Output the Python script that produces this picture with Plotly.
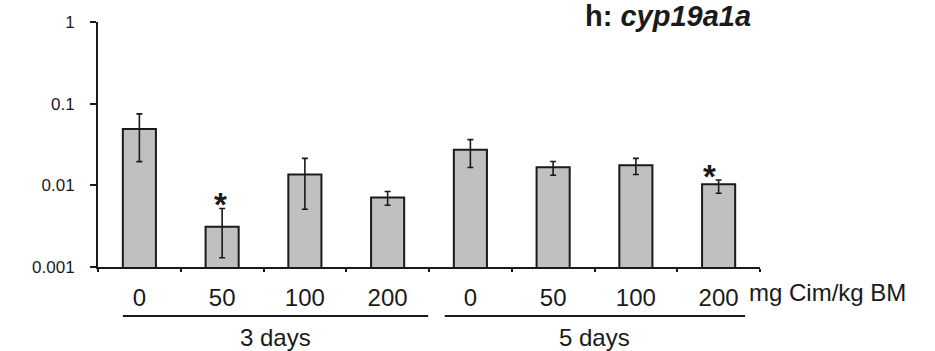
import math
import plotly.graph_objects as go

# ---- data ----
doses = ["0", "50", "100", "200", "0", "50", "100", "200"]
groups = ["3 days", "5 days"]
group_size = 4
means = [0.049, 0.0031, 0.0136, 0.0071, 0.0272, 0.0166, 0.0176, 0.0103]
err_upper = [0.075, 0.0052, 0.0214, 0.0084, 0.0363, 0.0196, 0.0214, 0.0116]
err_lower = [0.0195, 0.0013, 0.0051, 0.0057, 0.0165, 0.0133, 0.0136, 0.0080]
significant = [False, True, False, False, False, False, False, True]
y_ticks = [0.001, 0.01, 0.1, 1]
y_tick_text = ["0.001", "0.01", "0.1", "1"]
unit_label = "mg Cim/kg BM"
title_text = "<b>h: <i>cyp19a1a</i></b>"

FONT = "Arial, Liberation Sans, sans-serif"
n = len(means)
xs = list(range(n))

fig = go.Figure()
fig.add_trace(go.Bar(
    x=xs, y=means,
    marker=dict(color="#c0c0c0", line=dict(color="#1a1a1a", width=2)),
    error_y=dict(
        type="data", symmetric=False,
        array=[u - m for u, m in zip(err_upper, means)],
        arrayminus=[m - l for m, l in zip(means, err_lower)],
        color="#1a1a1a", thickness=1.6, width=3,
    ),
    showlegend=False,
))

annotations = []
star_xshift = {1: -2, 7: -9}
for i, (s, u) in enumerate(zip(significant, err_upper)):
    if s:
        annotations.append(dict(
            x=i, y=math.log10(u), xref="x", yref="y", text="<b>*</b>",
            showarrow=False, yanchor="middle", yshift=4,
            xshift=star_xshift.get(i, 0),
            font=dict(size=33, color="#1a1a1a", family=FONT),
        ))

# unit label
annotations.append(dict(
    x=0.980, y=-0.106, xref="paper", yref="paper", text=unit_label,
    showarrow=False, xanchor="left", yanchor="middle",
    font=dict(size=24, color="#1a1a1a", family=FONT),
))

# group lines & labels
line_spans = [(-0.2, 3.49), (3.69, 7.32)]
shapes = []
for g, (x0, x1) in zip(groups, line_spans):
    shapes.append(dict(type="line", xref="x", yref="paper", x0=x0, x1=x1,
                       y0=-0.2, y1=-0.2, line=dict(color="#1a1a1a", width=1.8)))
    annotations.append(dict(
        x=(x0 + x1) / 2, y=-0.288, xref="x", yref="paper", text=g,
        showarrow=False, xanchor="center", yanchor="middle",
        font=dict(size=24, color="#1a1a1a", family=FONT),
    ))

# title
annotations.append(dict(
    x=0.989, y=1 + 22 / 245, xref="paper", yref="paper", text=title_text,
    showarrow=False, xanchor="right", yanchor="top", yshift=2,
    font=dict(size=29, color="#1a1a1a", family=FONT),
))

fig.update_layout(
    width=935, height=351,
    margin=dict(l=98, r=175, t=22, b=84),
    paper_bgcolor="white", plot_bgcolor="white",
    bargap=0.6,
    annotations=annotations,
    shapes=shapes,
    font=dict(family=FONT, color="#1a1a1a"),
)
fig.update_xaxes(
    range=[-0.5, n - 0.5],
    tickvals=xs, ticktext=doses,
    ticks="", showline=True, linecolor="#1a1a1a", linewidth=2,
    showgrid=False, zeroline=False,
    tickfont=dict(size=24, family=FONT, color="#1a1a1a"),
    ticklabelstandoff=8,
    minor=dict(ticks="outside", ticklen=3, tickwidth=1.5, tickcolor="#1a1a1a",
               tickvals=[i - 0.5 for i in range(n + 1)]),
)
fig.update_yaxes(
    type="log", range=[-3, 0],
    tickvals=y_ticks, ticktext=y_tick_text,
    ticks="outside", ticklen=6, tickwidth=2, tickcolor="#1a1a1a",
    showline=True, linecolor="#1a1a1a", linewidth=2,
    showgrid=False, zeroline=False,
    tickfont=dict(size=17, family=FONT, color="#1a1a1a"),
    ticklabelstandoff=12,
)

fig.write_html("out.html")
